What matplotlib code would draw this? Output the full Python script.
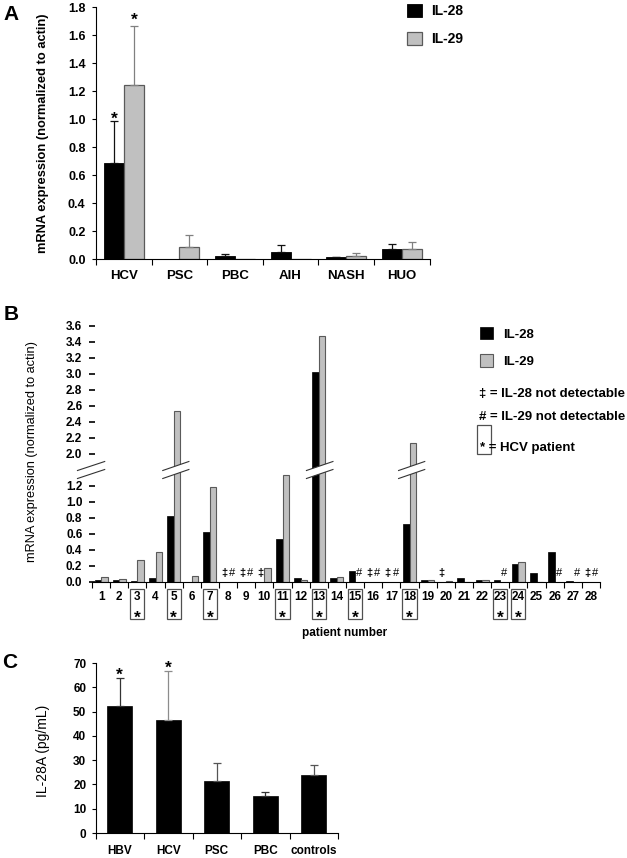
import numpy as np
import matplotlib
matplotlib.use('Agg')
import matplotlib.pyplot as plt
from matplotlib.patches import Rectangle, Polygon
from matplotlib.transforms import blended_transform_factory, offset_copy

plt.rcParams['font.family'] = ['Liberation Sans', 'DejaVu Sans']

# ---------------- data ----------------
# panel A: mRNA expression by disease group
groups_a = ['HCV', 'PSC', 'PBC', 'AIH', 'NASH', 'HUO']
il28_a = [0.685, 0.005, 0.022, 0.05, 0.014, 0.071]
il28_a_err = [0.305, 0.0, 0.013, 0.05, 0.005, 0.04]
il29_a = [1.245, 0.09, 0.005, 0.005, 0.024, 0.076]
il29_a_err = [0.425, 0.08, 0.0, 0.0, 0.019, 0.044]
stars_a = {'il28': [0], 'il29': [0]}
star_y_a = {'il28': [1.04], 'il29': [1.75]}

# panel B: single patients (nan = not detectable)
patients = list(range(1, 29))
nan = np.nan
il28_b = [0.02, 0.02, 0.01, 0.045, 0.83, 0.0, 0.62, nan, nan, nan,
          0.54, 0.045, 3.03, 0.045, 0.14, nan, nan, 0.73, 0.025, nan,
          0.05, 0.02, 0.03, 0.23, 0.115, 0.37, 0.01, nan]
il29_b = [0.065, 0.04, 0.27, 0.37, 2.54, 0.08, 1.19, nan, nan, 0.17,
          1.34, 0.03, 3.48, 0.06, nan, nan, nan, 2.14, 0.02, 0.015,
          0.004, 0.02, nan, 0.25, 0.005, nan, nan, nan]
hcv_patients = [3, 5, 7, 11, 13, 15, 18, 23, 24]

# panel C: serum IL-28A
groups_c = ['HBV', 'HCV', 'PSC', 'PBC', 'controls']
il28a_c = [52.3, 46.5, 21.4, 15.2, 23.8]
il28a_c_err = [11.4, 20.2, 7.5, 1.8, 4.0]
star_y_c = [67.3, 70.3]

# ---------------- layout helpers ----------------
W, H = 627, 858
BLACK = '#000000'
GRAY = '#c0c0c0'
EDGE_G = '#5a5a5a'
BOLD = {'fontweight': 'bold'}


def box(x0, y0, x1, y1):
    return [x0 / W, 1 - y1 / H, (x1 - x0) / W, (y1 - y0) / H]


def px(x, y):
    return x / W, 1 - y / H


def up_err(ax, x, y, e, color, cap=3):
    x, y, e = map(np.asarray, (x, y, e))
    m = e > 0
    ax.errorbar(x[m], y[m], yerr=[np.zeros(m.sum()), e[m]], fmt='none',
                ecolor=color, elinewidth=0.9, capsize=cap, capthick=0.9)


def star(ax, x, y, fs=12.5):
    tr = offset_copy(ax.transData, fig=fig, y=-0.33 * fs, units='points')
    ax.text(x, y, '*', ha='center', va='center', fontsize=fs,
            fontweight='bold', transform=tr, clip_on=False)


fig = plt.figure(figsize=(W / 100, H / 100), dpi=100)

# ---------------- panel A ----------------
ax = fig.add_axes(box(96, 7.3, 429.5, 259.3))
xa = np.arange(len(groups_a))
bw = 0.36
b28 = ax.bar(xa - bw / 2, il28_a, bw, color=BLACK, edgecolor=BLACK, lw=0.6, label='IL-28')
b29 = ax.bar(xa + bw / 2, il29_a, bw, color=GRAY, edgecolor=EDGE_G, lw=0.9, label='IL-29')
up_err(ax, xa - bw / 2, il28_a, il28_a_err, '#111111')
up_err(ax, xa + bw / 2, il29_a, il29_a_err, '#808080')
for i, yy in zip(stars_a['il28'], star_y_a['il28']):
    star(ax, xa[i] - bw / 2, yy)
for i, yy in zip(stars_a['il29'], star_y_a['il29']):
    star(ax, xa[i] + bw / 2, yy)

ax.set_xlim(-0.5, len(groups_a) - 0.5)
ax.set_ylim(0, 1.8)
ax.set_yticks(np.arange(0, 1.81, 0.2))
ax.set_yticklabels(['%.1f' % v for v in np.arange(0, 1.81, 0.2)], fontsize=9, **BOLD)
ax.set_xticks(xa)
ax.set_xticklabels(groups_a, fontsize=9.5, **BOLD)
ax.set_xticks(np.arange(-0.5, len(groups_a), 1), minor=True)
ax.tick_params(axis='x', which='major', length=0, pad=7.5)
ax.tick_params(axis='x', which='minor', length=4.5, width=0.8)
ax.tick_params(axis='y', length=3, width=0.8, pad=4.5)
for s in ['top', 'right']:
    ax.spines[s].set_visible(False)
for s in ['left', 'bottom']:
    ax.spines[s].set_linewidth(0.8)
ax.legend([b28, b29], ['IL-28', 'IL-29'], loc='upper left',
          bbox_to_anchor=px(407, 4), bbox_transform=fig.transFigure,
          frameon=False, prop={'size': 10, 'weight': 'bold'},
          handlelength=1.05, handleheight=1.05, handletextpad=0.7,
          labelspacing=1.0, borderpad=0, borderaxespad=0)

# ---------------- panel B (broken axis) ----------------
axt = fig.add_axes(box(92, 322, 600, 470))
axb = fig.add_axes(box(92, 470, 600, 582))
axb.set_zorder(3)
axb.patch.set_visible(False)
xb = np.arange(len(patients))
h28 = np.array(il28_b)
h29 = np.array(il29_b)
m28 = np.nan_to_num(h28) > 0
m29 = np.nan_to_num(h29) > 0
for a in (axt, axb):
    bb28 = a.bar(xb[m28] - bw / 2, h28[m28], bw, color=BLACK, edgecolor=BLACK, lw=0.5)
    bb29 = a.bar(xb[m29] + bw / 2, h29[m29], bw, color=GRAY, edgecolor=EDGE_G, lw=0.8)
    a.set_xlim(-0.5, len(patients) - 0.5)
    for s in ['top', 'right', 'left']:
        a.spines[s].set_visible(False)
    a.tick_params(axis='y', direction='inout', length=5, width=1.2, pad=4.5, labelsize=8.5)

axb.set_ylim(0, 1.4)
axt.set_ylim(1.8, 3.65)
tb = np.arange(0, 1.21, 0.2)
tt = np.arange(2.0, 3.61, 0.2)
axb.set_yticks(tb)
axb.set_yticklabels(['%.1f' % v for v in tb], **BOLD)
axt.set_yticks(tt)
axt.set_yticklabels(['%.1f' % v for v in tt], **BOLD)
axt.spines['bottom'].set_visible(False)
axt.set_xticks([])
axb.spines['bottom'].set_linewidth(0.8)
axb.set_xticks(xb)
axb.set_xticklabels([str(p) for p in patients], fontsize=8.5, **BOLD)
axb.set_xticks(np.arange(-0.5, len(patients), 1), minor=True)
axb.tick_params(axis='x', which='major', length=0, pad=6.8)
axb.tick_params(axis='x', which='minor', length=4, width=0.8)

# not-detectable symbols
for i in range(len(patients)):
    if np.isnan(h28[i]):
        axb.text(xb[i] - 0.22, 0.075, '\u2021', ha='center', va='baseline', fontsize=8, **BOLD)
    if np.isnan(h29[i]):
        axb.text(xb[i] + 0.24, 0.075, '#', ha='center', va='baseline', fontsize=8)

# boxes around HCV patients
trb = blended_transform_factory(axb.transData, axb.transAxes)
bh = 112.0
for p in hcv_patients:
    c = xb[patients.index(p)]
    axb.add_patch(Rectangle((c - 0.39, -37 / bh), 0.78, 30 / bh, transform=trb,
                            fill=False, edgecolor='#505050', lw=0.9, clip_on=False))
    tr = offset_copy(trb, fig=fig, y=-0.33 * 12.5, units='points')
    axb.text(c, -31 / bh, '*', ha='center', va='center', fontsize=12.5,
             fontweight='bold', transform=tr, clip_on=False)


def break_mark(xc, hw):
    d = lambda p: 1 + p / bh
    xl, xr = xc - hw, xc + hw
    axb.add_patch(Polygon([(xl, d(-8.5)), (xr, d(0.5)), (xr, d(8.5)), (xl, d(-0.5))],
                          closed=True, facecolor='white', edgecolor='none',
                          transform=trb, clip_on=False, zorder=5))
    for y0, y1 in [(-8.5, 0.5), (-0.5, 8.5)]:
        axb.plot([xl, xr], [d(y0), d(y1)], color='#333333', lw=0.8,
                 transform=trb, clip_on=False, zorder=6)


break_mark(-0.55, 0.75)
for i in range(len(patients)):
    if np.nan_to_num(h29[i]) > 1.8:
        if np.nan_to_num(h28[i]) > 1.8:
            break_mark(xb[i] + 0.05, 0.73)
        else:
            break_mark(xb[i] + 0.12, 0.72)

fig.text(*px(345, 633), 'patient number', ha='center', va='center', fontsize=8.5, **BOLD)
fig.text(*px(32, 451), 'mRNA expression (normalized to actin)', rotation=90,
         ha='center', va='center', fontsize=9.2)

axb.legend([bb28, bb29], ['IL-28', 'IL-29'], loc='upper left',
           bbox_to_anchor=px(480, 327), bbox_transform=fig.transFigure,
           frameon=False, prop={'size': 9.5, 'weight': 'bold'},
           handlelength=1.0, handleheight=1.05, handletextpad=0.75,
           labelspacing=1.05, borderpad=0, borderaxespad=0)
fig.text(*px(479, 394), '\u2021 = IL-28 not detectable', ha='left', va='center', fontsize=9.5, **BOLD)
fig.text(*px(479, 417), '# = IL-29 not detectable', ha='left', va='center', fontsize=9.5, **BOLD)
fig.text(*px(480, 448), '* = HCV patient', ha='left', va='center', fontsize=9.5, **BOLD)
fig.add_artist(Rectangle(px(477, 454), 14 / W, 29 / H, transform=fig.transFigure,
                         fill=False, edgecolor='#505050', lw=0.9))

# ---------------- panel C ----------------
axc = fig.add_axes(box(95.5, 663, 338, 833))
xc = np.arange(len(groups_c))
axc.bar(xc, il28a_c, 0.52, color=BLACK, edgecolor=BLACK, lw=0.5)
err_cols = ['#333333', '#8c8c8c', '#555555', '#333333', '#555555']
for i in range(len(groups_c)):
    up_err(axc, [xc[i]], [il28a_c[i]], [il28a_c_err[i]], err_cols[i])
for i, yy in enumerate(star_y_c):
    star(axc, xc[i], yy)
axc.set_xlim(-0.5, len(groups_c) - 0.5)
axc.set_ylim(0, 70)
axc.set_yticks(np.arange(0, 71, 10))
axc.set_yticklabels([str(v) for v in range(0, 71, 10)], fontsize=8.5, **BOLD)
axc.set_xticks(xc)
axc.set_xticklabels(groups_c, fontsize=8.5, **BOLD)
axc.set_xticks(np.arange(-0.5, len(groups_c), 1), minor=True)
axc.tick_params(axis='x', which='major', length=0, pad=9)
axc.tick_params(axis='x', which='minor', length=4.5, width=0.8)
axc.tick_params(axis='y', length=3, width=0.8, pad=3.6)
for s in ['top', 'right']:
    axc.spines[s].set_visible(False)
for s in ['left', 'bottom']:
    axc.spines[s].set_linewidth(0.8)

# labels and panel letters
fig.text(*px(43, 133), 'mRNA expression (normalized to actin)', rotation=90,
         ha='center', va='center', fontsize=9.3, **BOLD)
fig.text(*px(43, 751), 'IL-28A (pg/mL)', rotation=90, ha='center', va='center', fontsize=10)
fig.text(*px(11, 14), 'A', ha='center', va='center', fontsize=15, **BOLD)
fig.text(*px(11, 315), 'B', ha='center', va='center', fontsize=15, **BOLD)
fig.text(*px(10, 663), 'C', ha='center', va='center', fontsize=15, **BOLD)

fig.savefig('out.png', dpi=100)
